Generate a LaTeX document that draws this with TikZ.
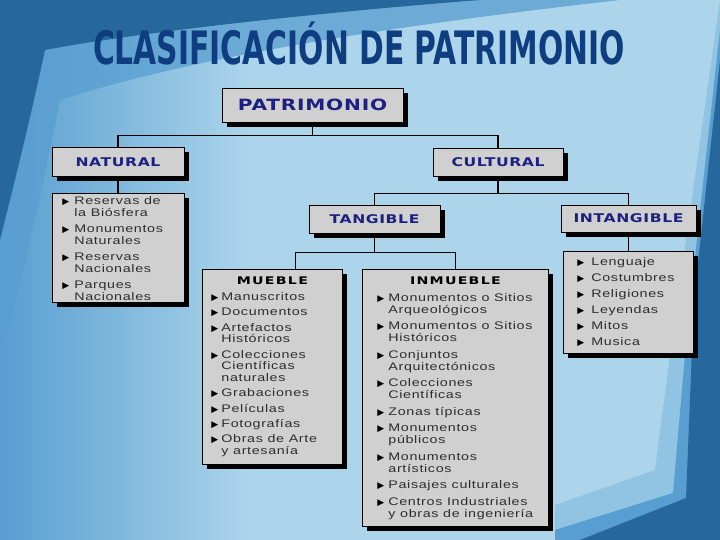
\documentclass[tikz,border=0pt]{standalone}
\usepackage{fontspec}
\setmainfont{Liberation Sans}
\newfontfamily\itemfont[FakeStretch=1.3,LetterSpace=6]{Liberation Sans}
\newfontfamily\headfont[FakeStretch=1.3,LetterSpace=5]{DejaVu Sans}
\newfontfamily\subfont[FakeStretch=1.35,LetterSpace=12]{DejaVu Sans}
\newfontfamily\titlefont{DejaVu Sans Condensed}
\newfontfamily\symfont{DejaVu Sans}
\usetikzlibrary{shadows}

\definecolor{bgbase}{RGB}{172,213,235}
\definecolor{bgmid}{RGB}{88,158,208}
\definecolor{bgdark}{RGB}{38,104,155}
\definecolor{bglight}{RGB}{145,195,226}
\definecolor{boxgray}{RGB}{208,208,208}
\definecolor{headblue}{RGB}{28,32,128}
\definecolor{titleblue}{RGB}{14,62,128}
\definecolor{itemgray}{RGB}{45,45,45}

\newlength{\bulw}
\newlength{\itmgap}
\setlength{\itmgap}{4pt}
\newcommand{\itm}[1]{\hangindent=\bulw\hangafter=1\noindent
  \makebox[\bulw][l]{\symfont\fontsize{9}{9}\selectfont\textcolor{black}{▶}}#1\par\vspace{\itmgap}}

\tikzstyle{head} = [rectangle, draw, fill=boxgray, line width=0.8pt, inner sep=0pt,
    general shadow={fill=black, shadow xshift=5pt, shadow yshift=-5pt},
    text=headblue, font=\headfont\bfseries\fontsize{12}{12}\selectfont]
\tikzstyle{list} = [rectangle, draw, fill=boxgray, line width=0.8pt, inner sep=0pt,
    anchor=north west, general shadow={fill=black, shadow xshift=5pt, shadow yshift=-5pt},
    text=itemgray, font=\itemfont\fontsize{11}{12}\selectfont]
\tikzstyle{line} = [draw, line width=1.3pt]

\begin{document}
\begin{tikzpicture}[x=1pt, y=-1pt]
    \useasboundingbox (0,0) rectangle (720,540);
    % background
    \fill [bgbase] (0,0) rectangle (720,540);
    \shade [left color=bgmid, right color=bgbase] (0,0) rectangle (250,540);
    \fill [bgmid, opacity=0.75] (0,0) -- (620,0) .. controls (400,25) and (200,55) .. (60,100)
        .. controls (40,200) and (20,290) .. (0,360) -- cycle;
    \fill [bgdark] (0,0) -- (480,0) .. controls (350,10) and (150,30) .. (45,50)
        .. controls (30,120) and (15,180) .. (0,240) -- cycle;
    \fill [bglight] (720,0) -- (672,340) -- (655,470) -- (555,505) -- (555,540) -- (720,540) -- cycle;
    \fill [bgmid] (720,30) -- (688,320) -- (673,493) -- (555,530) -- (555,540) -- (720,540) -- cycle;
    \fill [bgdark] (720,60) -- (694,300) -- (686,498) -- (580,540) -- (720,540) -- cycle;

    \node [anchor=base, text=titleblue] at (359,65) (title)
        {\scalebox{0.72}[1]{\titlefont\bfseries\fontsize{46}{46}\selectfont CLASIFICACIÓN DE PATRIMONIO}};

    \node [head, minimum width=181pt, minimum height=34pt,
        font=\headfont\bfseries\fontsize{15.5}{15.5}\selectfont] at (312.5,105) (patrimonio) {PATRIMONIO};
    \node [head, minimum width=132pt, minimum height=29pt] at (118,162) (natural) {NATURAL};
    \node [head, minimum width=130pt, minimum height=28pt] at (498,162) (cultural) {CULTURAL};
    \node [head, minimum width=131pt, minimum height=28pt] at (374.5,219) (tangible) {TANGIBLE};
    \node [head, minimum width=135pt, minimum height=27pt] at (628.5,218.5) (intangible) {INTANGIBLE};

    \node [list] at (52,193) (natlist) {\parbox[c][109pt][t]{132pt}{%
        \setlength{\bulw}{12pt}\leftskip=10pt\rightskip=0pt plus 1fil\vspace*{3pt}
        \itm{Reservas de\\la Biósfera}
        \itm{Monumentos\\Naturales}
        \itm{Reservas\\Nacionales}
        \itm{Parques\\Nacionales}}};
    \node [list] at (563,251) (intlist) {\parbox[c][102pt][t]{130pt}{%
        \setlength{\bulw}{14pt}\leftskip=14pt\rightskip=0pt plus 1fil\vspace*{6pt}
        \itm{Lenguaje}
        \itm{Costumbres}
        \itm{Religiones}
        \itm{Leyendas}
        \itm{Mitos}
        \itm{Musica}}};
    \node [list, font=\itemfont\fontsize{11}{11.5}\selectfont] at (202,269) (mueble) {\parbox[c][195pt][t]{140pt}{%
        \vspace*{7pt}{\centering\color{black}\subfont\bfseries\fontsize{10.5}{12}\selectfont MUEBLE\par}\vspace{5pt}
        \setlength{\bulw}{10pt}\setlength{\itmgap}{3.9pt}\leftskip=9pt\rightskip=0pt plus 1fil
        \itm{Manuscritos}
        \itm{Documentos}
        \itm{Artefactos\\Históricos}
        \itm{Colecciones\\Científicas\\naturales}
        \itm{Grabaciones}
        \itm{Películas}
        \itm{Fotografías}
        \itm{Obras de Arte\\y artesanía}}};
    \node [list] at (362,269) (inmueble) {\parbox[c][257pt][t]{186pt}{%
        \vspace*{7pt}{\centering\color{black}\subfont\bfseries\fontsize{10.5}{12}\selectfont INMUEBLE\par}\vspace{5pt}
        \setlength{\bulw}{11pt}\setlength{\itmgap}{4.5pt}\leftskip=15pt\rightskip=0pt plus 1fil
        \itm{Monumentos o Sitios\\Arqueológicos}
        \itm{Monumentos o Sitios\\Históricos}
        \itm{Conjuntos\\Arquitectónicos}
        \itm{Colecciones\\Científicas}
        \itm{Zonas típicas}
        \itm{Monumentos\\públicos}
        \itm{Monumentos\\artísticos}
        \itm{Paisajes culturales}
        \itm{Centros Industriales\\y obras de ingeniería}}};

    \path [line] (patrimonio.south) -- ++(0,13) -| (natural.north);
    \path [line] (patrimonio.south) -- ++(0,13) -| (cultural.north);
    \path [line] (natural.south) -- (natural.south |- natlist.north);
    \path [line] (cultural.south) -- ++(0,17) -| (tangible.north);
    \path [line] (cultural.south) -- ++(0,17) -| (intangible.north);
    \path [line] (intangible.south) -- (intangible.south |- intlist.north);
    \path [line] (tangible.south) -- ++(0,19) -| ([xshift=23pt]mueble.north);
    \path [line] (tangible.south) -- ++(0,19) -| (inmueble.north);
\end{tikzpicture}
\end{document}
